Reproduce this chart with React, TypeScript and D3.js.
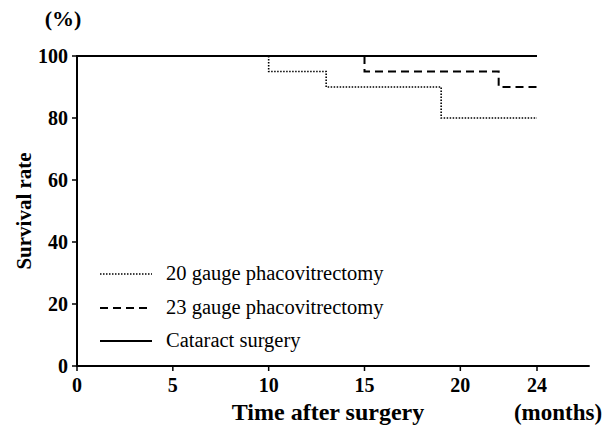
import React from "react";
import * as d3 from "d3";

const xTicks = [0, 5, 10, 15, 20, 24];
const yTicks = [0, 20, 40, 60, 80, 100];

const seriesNames = ["20 gauge phacovitrectomy", "23 gauge phacovitrectomy", "Cataract surgery"];
// step points: [month, survival %]
const gauge20 = [[0, 100], [10, 100], [10, 95], [13, 95], [13, 90], [19, 90], [19, 80], [24, 80]];
const gauge23 = [[0, 100], [15, 100], [15, 95], [22, 95], [22, 90], [24, 90]];
const cataract = [[0, 100], [24, 100]];
// drawn segment start month (parts before overlap the solid line)
const drawFrom = [10, 15, 0];

const dashes = ["1.5,1.5", "8,5", null];
const widths = [1.6, 2, 2];

export default function App() {
  const W = 615, H = 431;
  const x = d3.scaleLinear().domain([0, 24]).range([77, 537]);
  const y = d3.scaleLinear().domain([0, 100]).range([366, 56]);
  const xEnd = x(26.75);
  const line = d3.line<number[]>().x(d => x(d[0])).y(d => y(d[1]));
  const series = [gauge20, gauge23, cataract];
  const font = "'Liberation Serif', 'Times New Roman', serif";
  const legendY = [274, 308, 341];

  return (
    <svg width={W} height={H} style={{ position: "absolute", left: 0, top: 0, background: "#fff" }} fontFamily={font}>
      <rect width={W} height={H} fill="#fff" />
      {/* axes */}
      <line x1={x(0)} x2={x(0)} y1={y(100) - 1} y2={y(0) + 1} stroke="#000" strokeWidth={2} />
      <line x1={x(0) - 1} x2={xEnd} y1={y(0)} y2={y(0)} stroke="#000" strokeWidth={2} />
      {yTicks.map(t => (
        <g key={"y" + t}>
          <line x1={x(0) - 5} x2={x(0)} y1={y(t)} y2={y(t)} stroke="#000" strokeWidth={1.5} />
          <text x={68} y={y(t)} dy="0.35em" textAnchor="end" fontWeight="bold" fontSize={20}>{t}</text>
        </g>
      ))}
      {xTicks.map(t => (
        <g key={"x" + t}>
          <line x1={x(t)} x2={x(t)} y1={y(0)} y2={y(0) + 5} stroke="#000" strokeWidth={1.5} />
          <text x={x(t)} y={392} textAnchor="middle" fontWeight="bold" fontSize={20}>{t}</text>
        </g>
      ))}
      <text x={63} y={26} textAnchor="middle" fontWeight="bold" fontSize={22}>(%)</text>
      <text transform={`translate(31,${(y(0) + y(100)) / 2}) rotate(-90)`} textAnchor="middle" fontWeight="bold" fontSize={21}>Survival rate</text>
      <text x={328} y={420} textAnchor="middle" fontWeight="bold" fontSize={24}>Time after surgery</text>
      <text x={558} y={420} textAnchor="middle" fontWeight="bold" fontSize={23}>(months)</text>
      {/* curves */}
      {series.map((s, i) => {
        const pts = s.filter(d => d[0] >= drawFrom[i]);
        const first = pts[0][0] === drawFrom[i] ? pts : [[drawFrom[i], 100], ...pts];
        return (
          <path key={i} d={line(first) || ""} fill="none" stroke="#000" strokeWidth={widths[i]}
            strokeDasharray={dashes[i] || undefined} />
        );
      })}
      {/* legend */}
      {seriesNames.map((n, i) => {
        const ly = legendY[i];
        return (
          <g key={n}>
            <line x1={100} x2={152} y1={ly} y2={ly} stroke="#000" strokeWidth={widths[i]}
              strokeDasharray={dashes[i] || undefined} />
            <text x={166} y={ly} dy="0.3em" fontSize={20.5}>{n}</text>
          </g>
        );
      })}
    </svg>
  );
}
